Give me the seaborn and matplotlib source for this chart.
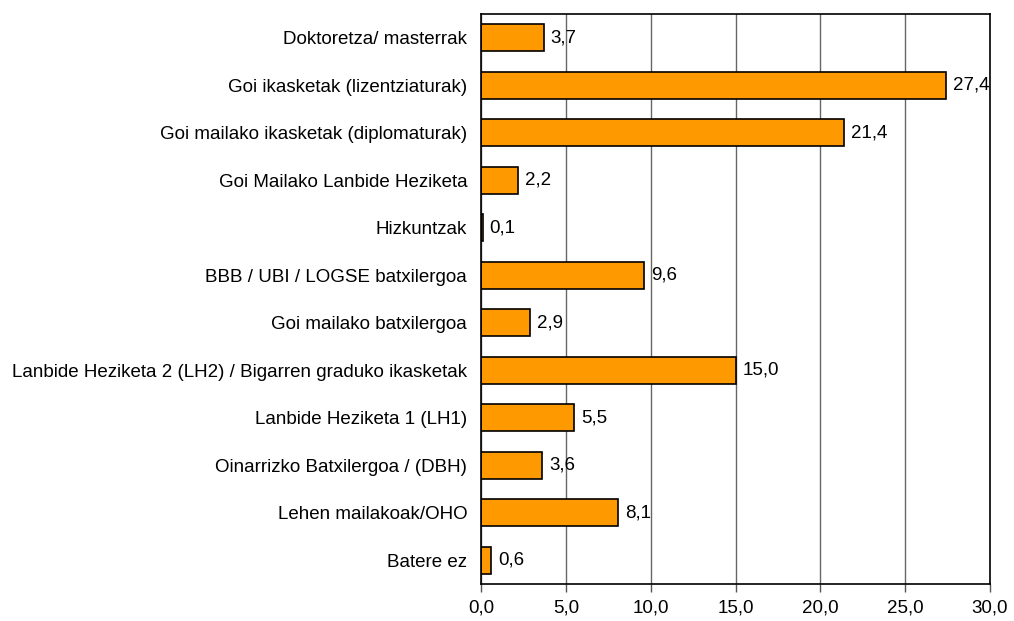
import matplotlib
matplotlib.use("Agg")
import matplotlib.pyplot as plt
import seaborn as sns
import pandas as pd

# Datuak (goitik behera)
categories = [
    "Doktoretza/ masterrak",
    "Goi ikasketak (lizentziaturak)",
    "Goi mailako ikasketak (diplomaturak)",
    "Goi Mailako Lanbide Heziketa",
    "Hizkuntzak",
    "BBB / UBI / LOGSE batxilergoa",
    "Goi mailako batxilergoa",
    "Lanbide Heziketa 2 (LH2) / Bigarren graduko ikasketak",
    "Lanbide Heziketa 1 (LH1)",
    "Oinarrizko Batxilergoa / (DBH)",
    "Lehen mailakoak/OHO",
    "Batere ez",
]
values = [3.7, 27.4, 21.4, 2.2, 0.1, 9.6, 2.9, 15.0, 5.5, 3.6, 8.1, 0.6]
xticks = [0, 5, 10, 15, 20, 25, 30]

df = pd.DataFrame({"kategoria": categories, "balioa": values})

sns.set_style("white")
plt.rcParams["font.family"] = ["Liberation Sans", "DejaVu Sans"]
plt.rcParams["text.color"] = "black"
plt.rcParams["xtick.color"] = "black"
plt.rcParams["ytick.color"] = "black"

fig = plt.figure(figsize=(10.14, 6.21), dpi=100)
ax = fig.add_axes([0.4744, 0.0596, 0.5019, 0.9179])

sns.barplot(data=df, x="balioa", y="kategoria", orient="h", color="#FF9900",
            saturation=1, edgecolor="black", linewidth=1.2, width=0.56, ax=ax)

ax.set_xlim(0, 30)
ax.set_xticks(xticks)
ax.set_xticklabels([f"{t:.1f}".replace(".", ",") for t in xticks], fontsize=13.5)
ax.tick_params(axis="x", bottom=True, direction="out", length=6, width=1,
               color="#555555", labelcolor="black", pad=5)
ax.tick_params(axis="y", left=False, length=0, pad=10, labelsize=13.5, labelcolor="black")
ax.xaxis.grid(True, color="#666666", linewidth=1)
ax.set_axisbelow(True)
ax.set_xlabel("")
ax.set_ylabel("")
for s in ax.spines.values():
    s.set_visible(True)
    s.set_color("black")
    s.set_linewidth(1.2)

for i, v in enumerate(values):
    ax.text(v + 0.4, i, f"{v:.1f}".replace(".", ","), va="center", ha="left",
            fontsize=13.5, color="black")

fig.savefig("out.png", dpi=100)
